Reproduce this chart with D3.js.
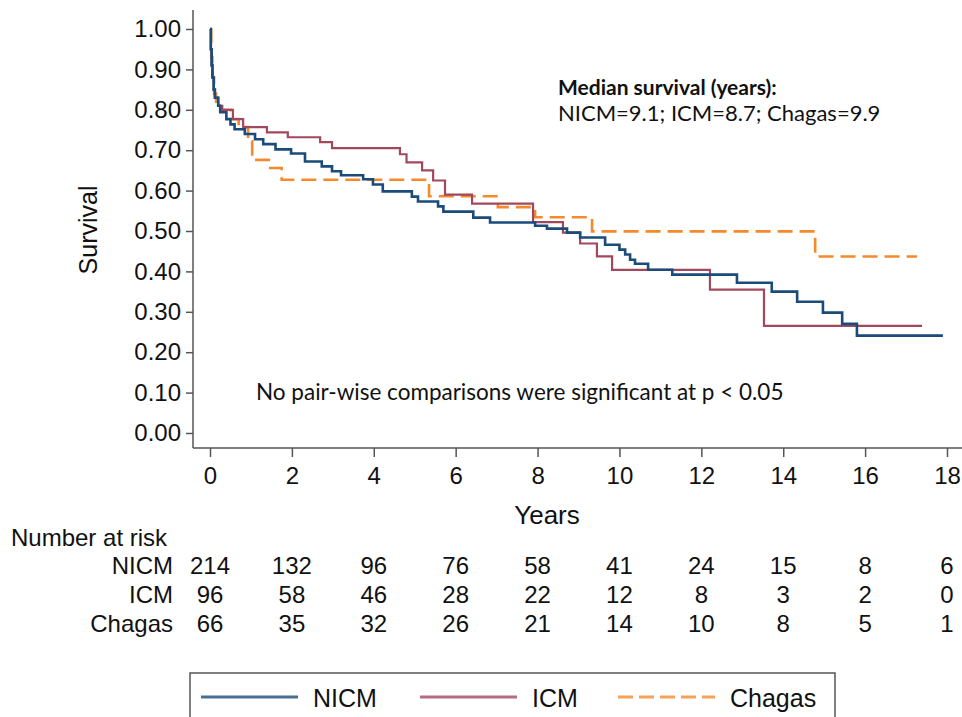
<!DOCTYPE html>
<html>
<head>
<meta charset="utf-8">
<script src="https://cdn.jsdelivr.net/npm/d3@7"></script>
<style>
  body { margin: 0; background: #fff; }
  svg { display: block; }
  .ax { font-family: "Liberation Sans", Arial, sans-serif; fill: #111; }
  .note { font-family: Lato, "Open Sans", sans-serif; fill: #111; }
</style>
</head>
<body>
<svg id="chart" width="962" height="717"></svg>
<script>
// Kaplan-Meier curves: time (years) where survival
// steps down, and the survival level from that time on.
var nicmTime = [0, 0.02, 0.04, 0.06, 0.09, 0.12, 0.2, 0.25, 0.4, 0.5, 0.6, 0.85, 1.1, 1.3, 1.6,
  1.98, 2.32, 2.73, 2.98, 3.2, 3.74, 3.98, 4.22, 4.93, 5.08, 5.57, 5.7, 6.43, 6.84,
  7.94, 8.23, 8.72, 9.04, 9.65, 10.0, 10.14, 10.26, 10.38, 10.7, 11.29, 12.87,
  13.72, 14.34, 14.97, 15.44, 15.8];
var nicmSurv = [1.0, 0.95, 0.91, 0.88, 0.85, 0.83, 0.81, 0.794, 0.777, 0.764, 0.752, 0.74, 0.727, 0.715, 0.702,
  0.692, 0.672, 0.66, 0.648, 0.638, 0.628, 0.615, 0.598, 0.585, 0.573, 0.561, 0.548, 0.533, 0.521,
  0.513, 0.506, 0.496, 0.484, 0.466, 0.454, 0.442, 0.429, 0.419, 0.404, 0.392, 0.372,
  0.35, 0.325, 0.298, 0.27, 0.241];

var icmTime = [0, 0.02, 0.04, 0.06, 0.09, 0.12, 0.2, 0.3, 0.56, 0.81, 1.39, 1.9, 2.69, 2.98,
  4.64, 4.8, 5.18, 5.45, 5.74, 6.4, 7.89, 8.62, 9.04, 9.45, 9.82, 12.21, 13.53];
var icmSurv = [1.0, 0.95, 0.91, 0.88, 0.85, 0.83, 0.81, 0.80, 0.777, 0.757, 0.744, 0.732, 0.72, 0.705,
  0.69, 0.67, 0.65, 0.625, 0.59, 0.568, 0.522, 0.496, 0.469, 0.437, 0.404, 0.355, 0.265];

var chagasTime = [0, 0.03, 0.06, 0.1, 0.15, 0.25, 0.5, 0.7, 0.93, 1.03, 1.47, 1.75,
  5.35, 7.03, 7.94, 9.33, 14.78];
var chagasSurv = [1.0, 0.93, 0.88, 0.84, 0.82, 0.80, 0.777, 0.757, 0.722, 0.676, 0.656, 0.627,
  0.586, 0.559, 0.534, 0.499, 0.437];

var groups = ["NICM", "ICM", "Chagas"];
var lastTime = [17.9, 17.39, 17.27];

var yearTicks = [0, 2, 4, 6, 8, 10, 12, 14, 16, 18];
var survTicks = [0, 0.1, 0.2, 0.3, 0.4, 0.5, 0.6, 0.7, 0.8, 0.9, 1.0];

var riskNICM = [214, 132, 96, 76, 58, 41, 24, 15, 8, 6];
var riskICM = [96, 58, 46, 28, 22, 12, 8, 3, 2, 0];
var riskChagas = [66, 35, 32, 26, 21, 14, 10, 8, 5, 1];

var colors = ["#1b4b7a", "#a2485d", "#f58a2d"];

var svg = d3.select("#chart");

var x = d3.scaleLinear().domain([0, 18]).range([210, 947]);
var y = d3.scaleLinear().domain([0, 1]).range([433, 29]);

// axes
var yAxis = svg.append("g")
  .attr("class", "ax")
  .attr("transform", "translate(193,0)")
  .call(d3.axisLeft(y).tickValues(survTicks).tickFormat(d3.format(".2f"))
    .tickSize(7).tickPadding(5));
yAxis.select(".domain").attr("d", "M0,10V448");

var xAxis = svg.append("g")
  .attr("class", "ax")
  .attr("transform", "translate(0,448)")
  .call(d3.axisBottom(x).tickValues(yearTicks).tickSize(9).tickPadding(10));
xAxis.select(".domain").attr("d", "M193,0H962");

svg.selectAll(".ax .domain, .ax .tick line")
  .attr("stroke", "#555").attr("stroke-width", 1.5);
svg.selectAll(".ax .tick text")
  .attr("font-size", 24).attr("fill", "#111")
  .attr("font-family", "Liberation Sans, Arial, sans-serif");

svg.append("text")
  .attr("class", "ax")
  .attr("transform", "translate(97,230) rotate(-90)")
  .attr("text-anchor", "middle")
  .attr("font-size", 25)
  .text("Survival");

svg.append("text")
  .attr("class", "ax")
  .attr("x", 547).attr("y", 524)
  .attr("text-anchor", "middle")
  .attr("font-size", 26)
  .text("Years");

// curves
var series = [
  { time: nicmTime, surv: nicmSurv },
  { time: icmTime, surv: icmSurv },
  { time: chagasTime, surv: chagasSurv }
];

var line = d3.line()
  .x(function (d) { return x(d[0]); })
  .y(function (d) { return y(d[1]); })
  .curve(d3.curveStepAfter);

// draw Chagas first, then ICM, NICM on top
[2, 1, 0].forEach(function (i) {
  var s = series[i];
  var pts = s.time.map(function (t, j) { return [t, s.surv[j]]; });
  pts.push([lastTime[i], s.surv[s.surv.length - 1]]);
  svg.append("path")
    .datum(pts)
    .attr("fill", "none")
    .attr("stroke", colors[i])
    .attr("stroke-width", i === 1 ? 2.2 : 2.6)
    .attr("stroke-dasharray", i === 2 ? "15,7" : null)
    .attr("d", line);
});

// notes
svg.append("text")
  .attr("class", "note")
  .attr("x", 558).attr("y", 95)
  .attr("font-size", 21).attr("font-weight", "bold")
  .text("Median survival (years):");
svg.append("text")
  .attr("class", "note")
  .attr("x", 558).attr("y", 121)
  .attr("font-size", 22)
  .text("NICM=9.1; ICM=8.7; Chagas=9.9");
svg.append("text")
  .attr("class", "note")
  .attr("x", 256).attr("y", 400)
  .attr("font-size", 22.5)
  .text("No pair-wise comparisons were significant at p < 0.05");

// number at risk table
svg.append("text")
  .attr("class", "ax")
  .attr("x", 11).attr("y", 546)
  .attr("font-size", 24)
  .text("Number at risk");

var riskRows = [riskNICM, riskICM, riskChagas];
var rowY = [574, 603, 632];

riskRows.forEach(function (row, i) {
  svg.append("text")
    .attr("class", "ax")
    .attr("x", 173).attr("y", rowY[i])
    .attr("text-anchor", "end")
    .attr("font-size", 24)
    .text(groups[i]);
  svg.selectAll(null)
    .data(row)
    .enter().append("text")
    .attr("class", "ax")
    .attr("x", function (d, j) { return x(yearTicks[j]); })
    .attr("y", rowY[i])
    .attr("text-anchor", "middle")
    .attr("font-size", 24)
    .text(function (d) { return d; });
});

// legend
var legend = svg.append("g");
legend.append("rect")
  .attr("x", 190).attr("y", 673)
  .attr("width", 645).attr("height", 60)
  .attr("fill", "none").attr("stroke", "#555").attr("stroke-width", 1.5);

var legX = [201, 420, 618];
groups.forEach(function (g, i) {
  legend.append("line")
    .attr("x1", legX[i]).attr("x2", legX[i] + 97)
    .attr("y1", 697).attr("y2", 697)
    .attr("stroke", colors[i])
    .attr("stroke-opacity", 0.8)
    .attr("stroke-width", 3)
    .attr("stroke-dasharray", i === 2 ? "15,6" : null);
  legend.append("text")
    .attr("class", "ax")
    .attr("x", legX[i] + 112).attr("y", 707)
    .attr("font-size", 25)
    .text(g);
});
</script>
</body>
</html>
